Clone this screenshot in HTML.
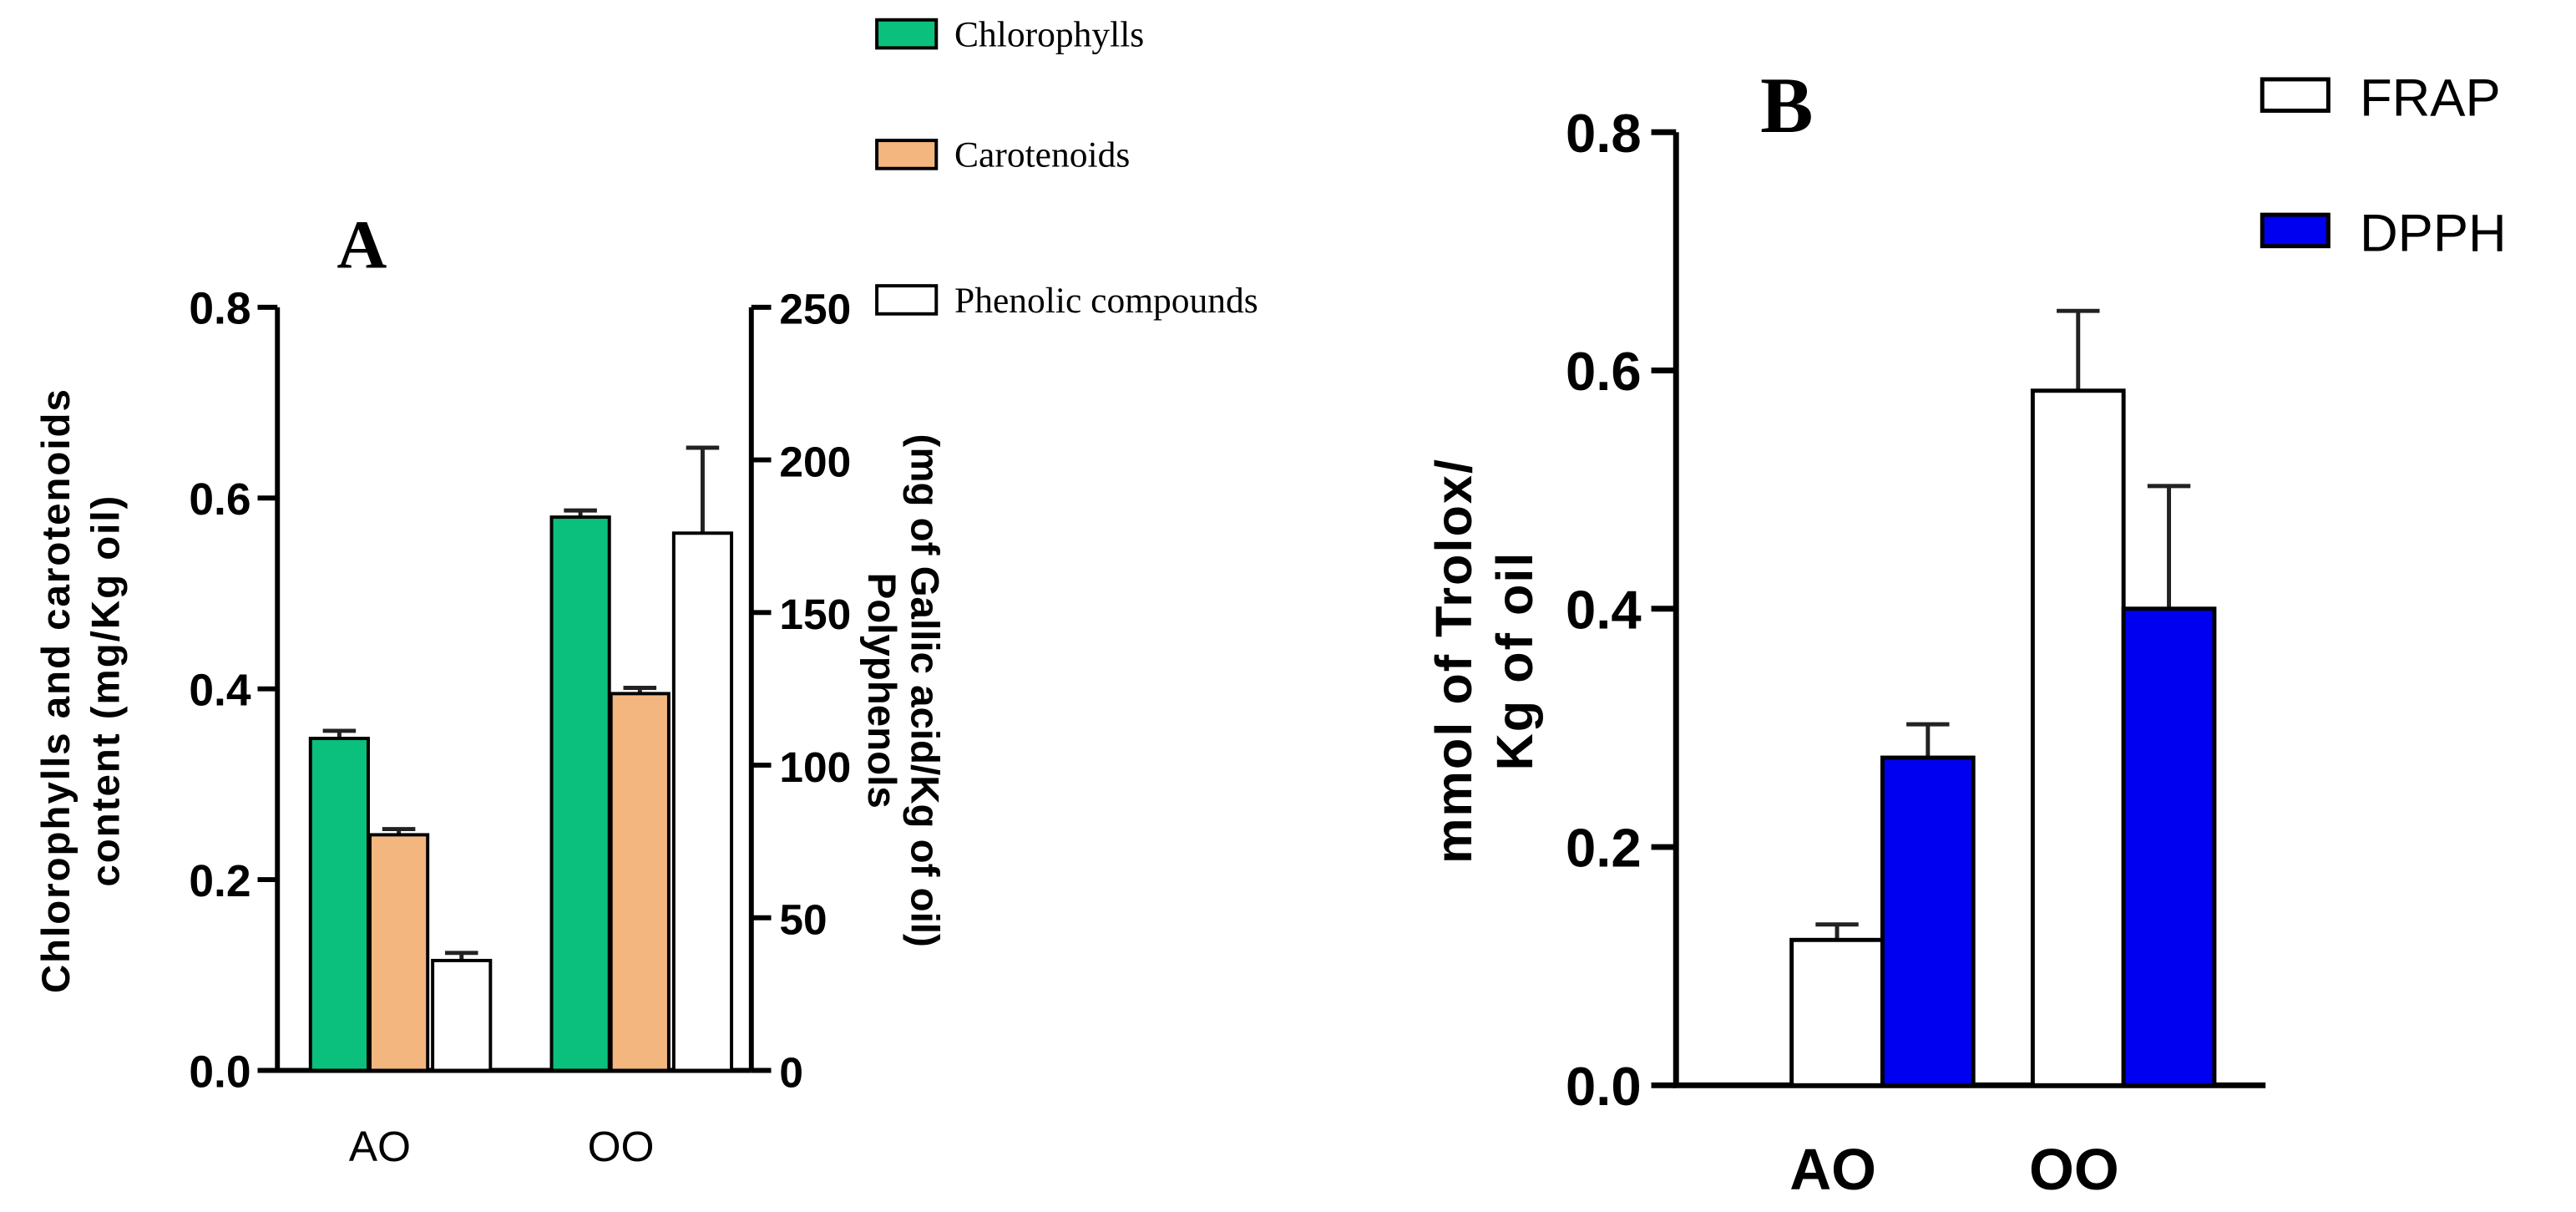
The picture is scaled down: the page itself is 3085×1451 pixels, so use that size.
<!DOCTYPE html>
<html><head><meta charset="utf-8"><style>
html,body{margin:0;padding:0;background:#fff;}
svg{display:block;}
text{font-family:"Liberation Sans",sans-serif;}
.serif{font-family:"Liberation Serif",serif;}
</style></head><body>
<svg id="fig" width="3085" height="1451" viewBox="0 0 1560 733.7">
<g id="chartA"></g>
<g id="chartB"></g>
</svg>
<script>
// Chart A data
const catsA = ["AO","OO"];
const chloro = [0.348, 0.580];
const chloroErr = [0.008, 0.007];
const carot = [0.247, 0.395];
const carotErr = [0.006, 0.006];
const phenol = [36, 176];
const phenolErr = [2.5, 28];
const leftTicksA = [0.0,0.2,0.4,0.6,0.8];
const rightTicksA = [0,50,100,150,200,250];
// Chart B data
const catsB = ["AO","OO"];
const frap = [0.122, 0.583];
const frapErr = [0.013, 0.067];
const dpph = [0.275, 0.400];
const dpphErr = [0.028, 0.103];
const ticksB = [0.0,0.2,0.4,0.6,0.8];

const NS="http://www.w3.org/2000/svg";
function mk(parent, tag, attrs, txt){
  const e=document.createElementNS(NS,tag);
  for(const k in attrs) e.setAttribute(k,attrs[k]);
  if(txt!==undefined) e.textContent=txt;
  parent.appendChild(e); return e;
}
// ---------- Chart A ----------
const A=document.getElementById('chartA');
const yA = v => 648 - v/0.8*462;
const yA2 = v => 648 - v/250*462;
const axA = mk(A,'path',{d:'M168 186 V648 H455 M455 186 V648',stroke:'#000','stroke-width':3,fill:'none'});


leftTicksA.forEach(t=>{
  const l=mk(A,'line',{x1:156,x2:168,y1:yA(t),y2:yA(t),stroke:'#000','stroke-width':3});
  
  
  const tx=mk(A,'text',{x:152,y:yA(t)+10,'text-anchor':'end','font-size':27,'font-weight':'bold'},t.toFixed(1));
  
  
});
rightTicksA.forEach(t=>{
  const l=mk(A,'line',{x1:455,x2:467,y1:yA2(t),y2:yA2(t),stroke:'#000','stroke-width':3});
  
  
  const tx=mk(A,'text',{x:472,y:yA2(t)+10,'font-size':26,'font-weight':'bold'},String(t));
  
  
});
const groupA=[230,376], bw=35;
function bar(parent,x,yTop,yBase,fill,name){
  const r=mk(parent,'rect',{x:x,y:yTop,width:bw,height:yBase-yTop,fill:fill,stroke:'#000','stroke-width':2});
  
  
}
function err(parent,xc,y1,y2,name){
  const p=mk(parent,'path',{d:`M${xc} ${y1} V${y2} M${xc-10} ${y2} H${xc+10}`,stroke:'#222','stroke-width':2.5,fill:'none'});
  
  
}
catsA.forEach((c,i)=>{
  const g=groupA[i];
  const x1=g-42, x2=g-6, x3=g+32;
  err(A,x1+bw/2,yA(chloro[i]),yA(chloro[i]+chloroErr[i]),'chlorophyll-error');
  bar(A,x1,yA(chloro[i]),648,'#0bbf7d','chlorophyll-bar-'+c.toLowerCase());
  err(A,x2+bw/2,yA(carot[i]),yA(carot[i]+carotErr[i]),'carotenoid-error');
  bar(A,x2,yA(carot[i]),648,'#f3b67f','carotenoid-bar-'+c.toLowerCase());
  err(A,x3+bw/2,yA2(phenol[i]),yA2(phenol[i]+phenolErr[i]),'phenolic-error');
  bar(A,x3,yA2(phenol[i]),648,'#fff','phenolic-bar-'+c.toLowerCase());
  const tx=mk(A,'text',{x:g,y:703,'text-anchor':'middle','font-size':26},c);
  
  
});
let t;
t=mk(A,'text',{x:204,y:162,'font-size':42,'font-weight':'bold',class:'serif'},'A');

t=mk(A,'text',{transform:'translate(42,418) rotate(-90)','text-anchor':'middle','font-size':24,'font-weight':'bold','letter-spacing':'1'},'Chlorophylls and carotenoids');

t=mk(A,'text',{transform:'translate(72,418) rotate(-90)','text-anchor':'middle','font-size':24,'font-weight':'bold','letter-spacing':'1'},'content (mg/Kg oil)');

t=mk(A,'text',{transform:'translate(526,418) rotate(90)','text-anchor':'middle','font-size':24,'font-weight':'bold'},'Polyphenols');

t=mk(A,'text',{transform:'translate(552,418) rotate(90)','text-anchor':'middle','font-size':24,'font-weight':'bold'},'(mg of Gallic acid/Kg of oil)');

const legA=[["Chlorophylls","#0bbf7d",12],["Carotenoids","#f3b67f",85],["Phenolic compounds","#fff",173]];
legA.forEach(l=>{
  const r=mk(A,'rect',{x:531,y:l[2],width:36,height:17,fill:l[1],stroke:'#000','stroke-width':2});
  
  const tx=mk(A,'text',{x:578,y:l[2]+16,'font-size':22,class:'serif'},l[0]);
  
});
// ---------- Chart B ----------
const B=document.getElementById('chartB');
const yB = v => 657 - v/0.8*577;
const axB=mk(B,'path',{d:'M1015 80 V657 H1372',stroke:'#000','stroke-width':3.5,fill:'none'});

ticksB.forEach(v=>{
  const l=mk(B,'line',{x1:1000,x2:1015,y1:yB(v),y2:yB(v),stroke:'#000','stroke-width':3.5});
  
  const tx=mk(B,'text',{x:994,y:yB(v)+12,'text-anchor':'end','font-size':33,'font-weight':'bold'},v.toFixed(1));
  
});
const groupB=[1140,1286], bwB=55;
catsB.forEach((c,i)=>{
  const g=groupB[i];
  let x=g-bwB, xc=x+bwB/2;
  let p=mk(B,'path',{d:`M${xc} ${yB(frap[i])} V${yB(frap[i]+frapErr[i])} M${xc-13} ${yB(frap[i]+frapErr[i])} H${xc+13}`,stroke:'#222','stroke-width':2.5,fill:'none'});
  
  let r=mk(B,'rect',{x:x,y:yB(frap[i]),width:bwB,height:657-yB(frap[i]),fill:'#fff',stroke:'#000','stroke-width':2.5});
  
  x=g; xc=x+bwB/2;
  p=mk(B,'path',{d:`M${xc} ${yB(dpph[i])} V${yB(dpph[i]+dpphErr[i])} M${xc-13} ${yB(dpph[i]+dpphErr[i])} H${xc+13}`,stroke:'#222','stroke-width':2.5,fill:'none'});
  
  r=mk(B,'rect',{x:x,y:yB(dpph[i]),width:bwB,height:657-yB(dpph[i]),fill:'#0000f0',stroke:'#000','stroke-width':2.5});
  
  const tx=mk(B,'text',{x:g-30,y:720,'text-anchor':'middle','font-size':35,'font-weight':'bold'},c);
  
});
t=mk(B,'text',{x:1066,y:80,'font-size':48,'font-weight':'bold',class:'serif'},'B');

t=mk(B,'text',{transform:'translate(891,400) rotate(-90)','text-anchor':'middle','font-size':31,'font-weight':'bold','letter-spacing':'1'},'mmol of Trolox/');

t=mk(B,'text',{transform:'translate(928,400) rotate(-90)','text-anchor':'middle','font-size':31,'font-weight':'bold','letter-spacing':'1'},'Kg of oil');

const legB=[["FRAP","#fff",48],["DPPH","#0000f0",130]];
legB.forEach(l=>{
  const r=mk(B,'rect',{x:1370,y:l[2],width:40,height:19,fill:l[1],stroke:'#000','stroke-width':2.5});
  
  const tx=mk(B,'text',{x:1429,y:l[2]+22,'font-size':32},l[0]);
  
});
</script>
</body></html>
